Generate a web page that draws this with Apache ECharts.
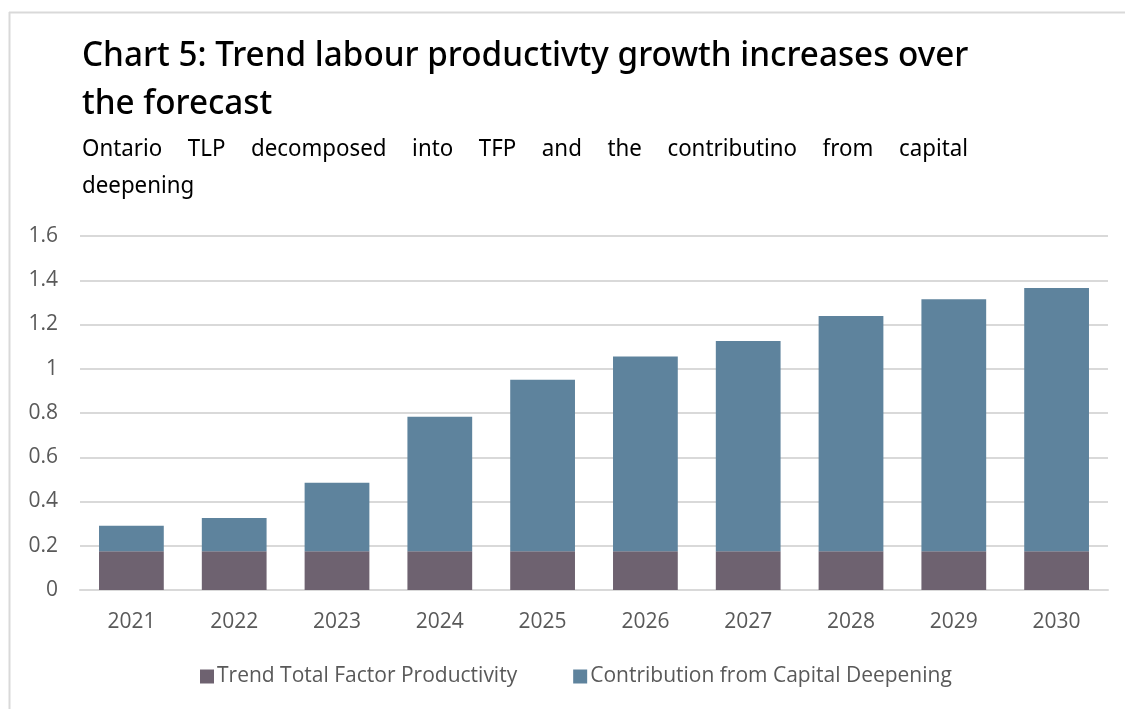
<!DOCTYPE html>
<html><head><meta charset="utf-8">
<script src="https://cdn.jsdelivr.net/npm/echarts@6/dist/echarts.min.js"></script>
<style>html,body{margin:0;padding:0;background:#fff}#c{width:1125px;height:709px}</style>
</head><body><div id="c"></div>
<script>
const years = ['2021','2022','2023','2024','2025','2026','2027','2028','2029','2030'];
const tfp = [0.175,0.175,0.175,0.175,0.175,0.175,0.175,0.175,0.175,0.175];
const capital = [0.115,0.15,0.31,0.608,0.775,0.88,0.95,1.063,1.139,1.19];
const seriesNames = ['Trend Total Factor Productivity','Contribution from Capital Deepening'];
const titleLines = ['Chart 5: Trend labour productivty growth increases over','the forecast'];
const subtitleLines = ['Ontario TLP decomposed into TFP and the contributino from capital','deepening'];

const FONT_T = '"Noto Sans", sans-serif';
const FONT_A = '"Open Sans", "Noto Sans", sans-serif';

function justified(line, x0, x1, y, size, sx) {
  const cv = document.createElement('canvas').getContext('2d');
  cv.font = size + 'px "Noto Sans"';
  const words = line.split(' ');
  const widths = words.map(w => cv.measureText(w).width * sx);
  const total = widths.reduce((a, b) => a + b, 0);
  const gap = (x1 - x0 - total) / (words.length - 1);
  let x = x0;
  return words.map((w, i) => {
    const el = {type: 'text', x: x, y: y, scaleX: sx, style: {text: w, font: size + 'px ' + FONT_T, fill: '#000'}};
    x += widths[i] + gap;
    return el;
  });
}

const chart = echarts.init(document.getElementById('c'), null, {renderer: 'canvas'});
const graphics = [
  {type: 'line', shape: {x1: 9.5, y1: 12, x2: 9.5, y2: 709}, style: {stroke: '#d9d9d9', lineWidth: 2}},
  {type: 'line', shape: {x1: 9, y1: 12.5, x2: 1125, y2: 12.5}, style: {stroke: '#d9d9d9', lineWidth: 2}},
  {type: 'text', x: 82, y: 39, scaleX: 0.978, style: {text: titleLines[0], font: '500 34px ' + FONT_T, fill: '#000'}},
  {type: 'text', x: 82, y: 87, scaleX: 0.978, style: {text: titleLines[1], font: '500 34px ' + FONT_T, fill: '#000'}},
  ...justified(subtitleLines[0], 82, 968, 138, 23, 0.97),
  {type: 'text', x: 82, y: 175, scaleX: 0.97, style: {text: subtitleLines[1], font: '23px ' + FONT_T, fill: '#000'}}
];

chart.setOption({
  animation: false,
  backgroundColor: '#fff',
  graphic: graphics,
  grid: {left: 80, right: 17, top: 236, bottom: 119, containLabel: false},
  legend: {
    bottom: 17, left: 195,
    itemWidth: 14, itemHeight: 14, itemGap: 56,
    icon: 'rect',
    textStyle: {fontFamily: FONT_A, fontSize: 21, color: '#595959', padding: [0, 0, 0, -2]},
    data: seriesNames
  },
  xAxis: {
    type: 'category', data: years,
    axisLine: {lineStyle: {color: '#d9d9d9', width: 2}},
    axisTick: {show: false},
    axisLabel: {fontFamily: FONT_A, fontSize: 21, color: '#595959', margin: 22}
  },
  yAxis: {
    type: 'value', min: 0, max: 1.6, interval: 0.2,
    axisLine: {show: false}, axisTick: {show: false},
    splitLine: {lineStyle: {color: '#d9d9d9', width: 2}},
    axisLabel: {fontFamily: FONT_A, fontSize: 21, color: '#595959', margin: 22,
      formatter: v => String(Math.round(v * 10) / 10)}
  },
  series: [
    {name: seriesNames[0], type: 'bar', stack: 't', data: tfp, barWidth: '63%',
     itemStyle: {color: '#6e6270'}},
    {name: seriesNames[1], type: 'bar', stack: 't', data: capital, barWidth: '63%',
     itemStyle: {color: '#5e839d'}}
  ]
});
</script></body></html>
